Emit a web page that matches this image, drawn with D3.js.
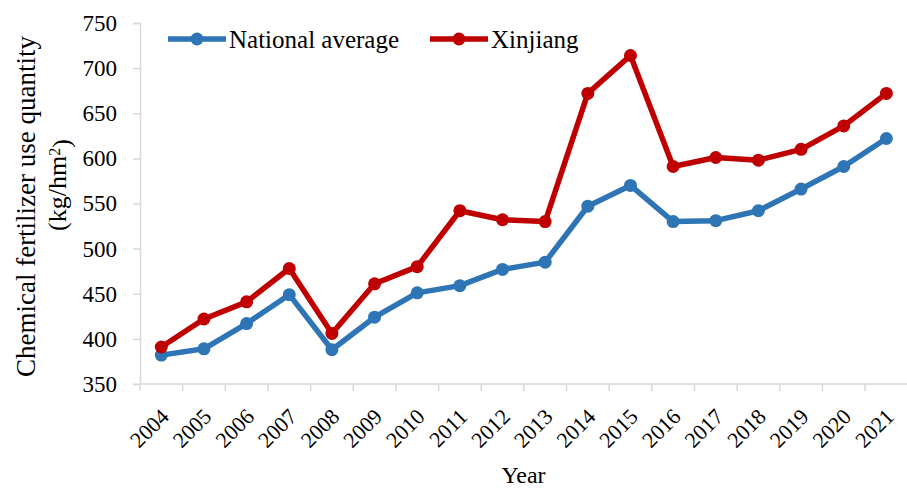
<!DOCTYPE html>
<html>
<head>
<meta charset="utf-8">
<script src="https://cdn.jsdelivr.net/npm/d3@7"></script>
<style>
  body { margin: 0; background: #fff; }
  text { font-family: "Liberation Serif", "Times New Roman", serif; fill: #000; }
</style>
</head>
<body>
<script>
const years = ["2004","2005","2006","2007","2008","2009","2010","2011","2012",
               "2013","2014","2015","2016","2017","2018","2019","2020","2021"];
const national = [382, 389, 417, 449, 388, 424, 451, 459, 477,
                  485, 547, 570, 530, 531, 542, 566, 591, 622];
const xinjiang = [391, 422, 441, 478, 406, 461, 480, 542, 532,
                  530, 672, 714, 591, 601, 598, 610, 636, 672];
const yTicks = [350, 400, 450, 500, 550, 600, 650, 700, 750];
const seriesNames = ["National average", "Xinjiang"];
const colors = ["#2e75b6", "#c00000"];

const width = 907, height = 488;
const margin = {top: 23, right: 0, bottom: 104, left: 140};

const svg = d3.select("body").append("svg")
    .attr("width", width)
    .attr("height", height);

const x = d3.scaleBand()
    .domain(years)
    .range([margin.left, margin.left + 18 * 42.65]);

const y = d3.scaleLinear()
    .domain([350, 750])
    .range([height - margin.bottom, margin.top]);

// y axis
const yAxis = svg.append("g")
    .attr("transform", `translate(${margin.left},0)`)
    .attr("font-family", "Liberation Serif")
    .call(d3.axisLeft(y).tickValues(yTicks).tickSize(7).tickPadding(16));
yAxis.select(".domain").attr("stroke", "#d9d9d9").attr("stroke-width", 1.5);
yAxis.selectAll(".tick line").attr("stroke", "#d9d9d9").attr("stroke-width", 1.5);
yAxis.selectAll(".tick text")
    .style("font-family", "'Liberation Serif', serif")
    .style("font-size", "23px")
    .attr("fill", "#000");

// x axis: ticks between categories
const xAxis = svg.append("g")
    .attr("transform", `translate(0,${y(350)})`);
xAxis.append("line")
    .attr("x1", margin.left).attr("x2", width)
    .attr("stroke", "#d9d9d9").attr("stroke-width", 1.5);
xAxis.selectAll(".sep")
    .data(years)
    .enter().append("line")
    .attr("x1", d => x(d)).attr("x2", d => x(d))
    .attr("y1", 0).attr("y2", 7)
    .attr("stroke", "#d9d9d9").attr("stroke-width", 1.5);
xAxis.selectAll(".lbl")
    .data(years)
    .enter().append("text")
    .attr("transform", d => `translate(${x(d) + x.bandwidth() / 2 - 2},${23}) rotate(-45)`)
    .attr("text-anchor", "end")
    .attr("dy", "0.7em")
    .style("font-size", "22px")
    .text(d => d);

// lines
const line = d3.line()
    .x((d, i) => x(years[i]) + x.bandwidth() / 2)
    .y(d => y(d));

[national, xinjiang].forEach((vals, k) => {
  svg.append("path")
      .datum(vals)
      .attr("fill", "none")
      .attr("stroke", colors[k])
      .attr("stroke-width", 5.5)
      .attr("stroke-linejoin", "round")
      .attr("d", line);
  svg.selectAll(".m" + k)
      .data(vals)
      .enter().append("circle")
      .attr("cx", (d, i) => x(years[i]) + x.bandwidth() / 2)
      .attr("cy", d => y(d))
      .attr("r", 6.5)
      .attr("fill", colors[k]);
});

// legend
const legendX = [168, 430];
seriesNames.forEach((name, k) => {
  const g = svg.append("g").attr("transform", `translate(${legendX[k]},39)`);
  g.append("line")
      .attr("x1", 0).attr("x2", 58)
      .attr("stroke", colors[k]).attr("stroke-width", 5.5);
  g.append("circle").attr("cx", 29).attr("r", 6.5).attr("fill", colors[k]);
  g.append("text")
      .attr("x", 61).attr("dy", "0.35em")
      .style("font-size", "25px")
      .text(name);
});

// axis titles
svg.append("text")
    .attr("transform", `translate(35,${(y(350) + y(750)) / 2 + 3}) rotate(-90)`)
    .attr("text-anchor", "middle")
    .style("font-size", "27px")
    .text("Chemical fertilizer use quantity");
const unit = svg.append("text")
    .attr("transform", `translate(66,185) rotate(-90)`)
    .attr("text-anchor", "middle")
    .style("font-size", "26px");
unit.append("tspan").text("(kg/hm");
unit.append("tspan").attr("dy", "-0.4em").style("font-size", "16px").text("2");
unit.append("tspan").attr("dy", "0.4em").text(")");

svg.append("text")
    .attr("x", (margin.left + width) / 2)
    .attr("y", 483)
    .attr("text-anchor", "middle")
    .style("font-size", "24px")
    .text("Year");
</script>
</body>
</html>
